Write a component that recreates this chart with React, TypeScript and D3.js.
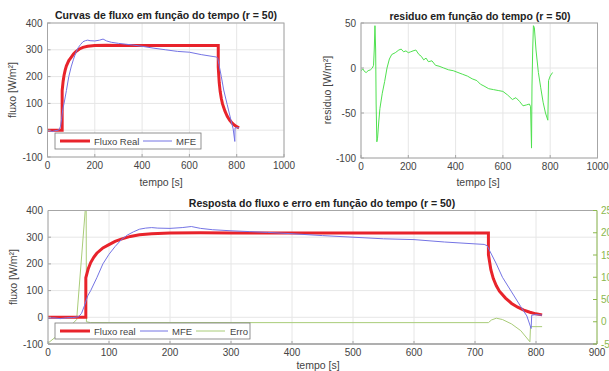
import React from 'react';
import * as d3 from 'd3';

// fluxo real [t, W/m²]
const realT = [0, 62, 62, 66, 70, 75, 80, 90, 100, 110, 120, 135, 150, 170, 200, 250, 300, 722, 722, 726, 730, 735, 740, 750, 760, 770, 780, 790, 800, 810];
const realV = [0, 0, 148, 182, 205, 225, 240, 260, 272, 284, 293, 303, 309, 313, 316, 317, 316, 316, 235, 178, 145, 118, 98, 72, 52, 38, 27, 19, 13, 9];

// MFE [t, W/m²]
const mfeT = [0, 10, 20, 30, 40, 50, 55, 60, 65, 70, 80, 90, 100, 110, 120, 130, 140, 150, 160, 170, 180, 200, 220, 235, 250, 270, 300, 330, 360, 400, 450, 500, 550, 600, 650, 700, 715, 720, 725, 735, 745, 760, 775, 785, 792, 793, 800, 810];
const mfeV = [-3, -2, -5, -2, -1, 2, 15, 45, 80, 100, 148, 200, 236, 265, 290, 308, 320, 330, 334, 336, 334, 333, 336, 340, 333, 328, 324, 321, 318, 313, 306, 300, 294, 291, 282, 275, 273, 268, 245, 200, 150, 95, 40, 5, -42, 8, 10, 8];

// residuo [t, W/m²]
const resT = [0, 8, 15, 22, 30, 40, 48, 53, 56, 59, 62, 64, 67, 70, 75, 80, 90, 100, 110, 120, 130, 145, 160, 170, 180, 190, 200, 210, 220, 232, 245, 255, 265, 275, 285, 300, 315, 330, 350, 370, 390, 410, 430, 450, 470, 490, 505, 520, 540, 560, 580, 600, 620, 640, 655, 670, 685, 700, 712, 717, 721, 723, 726, 729, 733, 740, 750, 760, 770, 780, 790, 793, 800, 810];
const resV = [-3, -1, -4, -5, -3, -2, 0, 3, 20, 47, 20, -40, -82, -78, -60, -45, -28, -15, 0, 10, 15, 17, 20, 21, 18, 19, 17, 18, 19, 20, 15, 13, 9, 11, 7, 8, 3, 2, 0, -2, -3, -5, -7, -9, -12, -14, -18, -20, -23, -24, -25, -26, -30, -35, -33, -37, -42, -41, -40, -43, -89, -20, 20, 47, 45, 20, -5, -22, -38, -50, -58, -14, -9, -5];

// erro (eixo direito)
const erroT = [0, 42, 47, 61, 62, 63, 70, 200, 400, 600, 722, 727, 735, 745, 760, 775, 790, 791, 810];
const erroV = [-48, -2, 5, 250, 600, 0, -2, -2, -2, -2, -2, 4, 8, 5, -5, -20, -45, -11, -11];

const xTicksTop = [0, 200, 400, 600, 800, 1000];
const yTicksFlux = [-100, 0, 100, 200, 300, 400];
const yTicksRes = [-100, -50, 0, 50];
const xTicksBot = [0, 100, 200, 300, 400, 500, 600, 700, 800, 900];
const yTicksErro = [-50, 0, 50, 100, 150, 200, 250];

const RED = '#e8232b';
const BLUE = '#7474e4';
const GREEN = '#4fe04f';
const OLIVE = '#a9cc78';
const AXIS_G = '#8cb84e';
const GRID = '#e6e6e6';
const BOX = '#a6a6a6';
const TXT = '#444';
const FONT = 'Liberation Sans, Arial, sans-serif';

const zip = (t: number[], v: number[]) => t.map((d, i) => [d, v[i]] as [number, number]);

function Frame({ x, y, xt, yt, id }: any) {
  const [x0, x1] = x.range();
  const [y0, y1] = y.range();
  return (
    <g>
      <rect x={x0} y={y1} width={x1 - x0} height={y0 - y1} fill="#fff" />
      {xt.map((t: number) => (
        <line key={'gx' + t} x1={x(t)} x2={x(t)} y1={y0} y2={y1} stroke={GRID} />
      ))}
      {yt.map((t: number) => (
        <line key={'gy' + t} x1={x0} x2={x1} y1={y(t)} y2={y(t)} stroke={GRID} />
      ))}
      <clipPath id={id}>
        <rect x={x0} y={y1} width={x1 - x0} height={y0 - y1} />
      </clipPath>
    </g>
  );
}

function Axes({ x, y, xt, yt, box = true }: any) {
  const [x0, x1] = x.range();
  const [y0, y1] = y.range();
  return (
    <g fontFamily={FONT} fontSize={10} fill={TXT}>
      {box && <rect x={x0} y={y1} width={x1 - x0} height={y0 - y1} fill="none" stroke={BOX} />}
      {!box && <line x1={x0} x2={x0} y1={y0} y2={y1} stroke={BOX} />}
      {!box && <line x1={x0} x2={x1} y1={y1} y2={y1} stroke={BOX} />}
      {!box && <line x1={x0} x2={x1} y1={y0} y2={y0} stroke="#999" strokeWidth={1.5} />}
      {xt.map((t: number) => (
        <g key={'x' + t}>
          <line x1={x(t)} x2={x(t)} y1={y0} y2={y0 - 3} stroke={BOX} />
          <text x={x(t)} y={y0 + 12} textAnchor="middle">{t}</text>
        </g>
      ))}
      {yt.map((t: number) => (
        <g key={'y' + t}>
          <line x1={x0} x2={x0 + 3} y1={y(t)} y2={y(t)} stroke={BOX} />
          <text x={x0 - 5} y={y(t) + 3.5} textAnchor="end">{t}</text>
        </g>
      ))}
    </g>
  );
}

export default function App() {
  // painel superior esquerdo
  const x1 = d3.scaleLinear().domain([0, 1000]).range([47.5, 284]);
  const y1 = d3.scaleLinear().domain([-100, 400]).range([157, 23]);
  // painel superior direito
  const x2 = d3.scaleLinear().domain([0, 1000]).range([361, 597.5]);
  const y2 = d3.scaleLinear().domain([-100, 50]).range([158, 23]);
  // painel inferior
  const x3 = d3.scaleLinear().domain([0, 900]).range([48, 597]);
  const y3 = d3.scaleLinear().domain([-100, 400]).range([344, 210.5]);
  const y3r = d3.scaleLinear().domain([-50, 250]).range([344, 210.5]);

  const real = zip(realT, realV);
  const mfe = zip(mfeT, mfeV);
  const res = zip(resT, resV);
  const erro = zip(erroT, erroV);

  const l1 = d3.line().x((d) => x1(d[0])).y((d) => y1(d[1]));
  const l2 = d3.line().x((d) => x2(d[0])).y((d) => y2(d[1]));
  const l3 = d3.line().x((d) => x3(d[0])).y((d) => y3(d[1]));
  const l3r = d3.line().x((d) => x3(d[0])).y((d) => y3r(d[1]));

  return (
    <svg width={609} height={371} style={{ position: 'absolute', left: 0, top: 0 }} fontFamily={FONT}>
      <rect width={609} height={371} fill="#fff" />

      {/* superior esquerdo */}
      <Frame x={x1} y={y1} xt={xTicksTop} yt={yTicksFlux} id="c1" />
      <g clipPath="url(#c1)" fill="none">
        <path d={l1(real) || ''} stroke={RED} strokeWidth={3} />
        <path d={l1(mfe) || ''} stroke={BLUE} strokeWidth={1} />
      </g>
      <Axes x={x1} y={y1} xt={xTicksTop} yt={yTicksFlux} />
      <text x={166} y={19} textAnchor="middle" fontWeight="bold" fontSize={10.5} fill="#222">
        Curvas de fluxo em função do tempo (r = 50)
      </text>
      <text x={161} y={186} textAnchor="middle" fontSize={10.5} fill={TXT}>tempo [s]</text>
      <text transform="translate(16,90) rotate(-90)" textAnchor="middle" fontSize={10.5} fill={TXT}>fluxo [W/m²]</text>
      <g fontSize={9.5} fill={TXT}>
        <rect x={55} y={133} width={146} height={16} fill="#fff" stroke="#777" strokeWidth={0.8} />
        <line x1={60} x2={90} y1={141} y2={141} stroke={RED} strokeWidth={3} />
        <text x={94} y={144.5}>Fluxo Real</text>
        <line x1={143} x2={172} y1={141} y2={141} stroke={BLUE} strokeWidth={1} />
        <text x={176} y={144.5}>MFE</text>
      </g>

      {/* superior direito */}
      <Frame x={x2} y={y2} xt={xTicksTop} yt={yTicksRes} id="c2" />
      <g clipPath="url(#c2)" fill="none">
        <path d={l2(res) || ''} stroke={GREEN} strokeWidth={1} />
      </g>
      <Axes x={x2} y={y2} xt={xTicksTop} yt={yTicksRes} />
      <text x={480} y={20} textAnchor="middle" fontWeight="bold" fontSize={10.5} fill="#222">
        residuo em função do tempo (r = 50)
      </text>
      <text x={478} y={186} textAnchor="middle" fontSize={10.5} fill={TXT}>tempo [s]</text>
      <text transform="translate(331,90) rotate(-90)" textAnchor="middle" fontSize={10.5} fill={TXT}>residuo [W/m²]</text>

      {/* inferior */}
      <Frame x={x3} y={y3} xt={xTicksBot} yt={yTicksFlux} id="c3" />
      <g clipPath="url(#c3)" fill="none">
        <path d={l3r(erro) || ''} stroke={OLIVE} strokeWidth={1} />
        <path d={l3(real) || ''} stroke={RED} strokeWidth={3} />
        <path d={l3(mfe) || ''} stroke={BLUE} strokeWidth={1} />
      </g>
      <Axes x={x3} y={y3} xt={xTicksBot} yt={yTicksFlux} box={false} />
      <g fontSize={10} fill={AXIS_G}>
        <line x1={597} x2={597} y1={344} y2={210.5} stroke={AXIS_G} />
        {yTicksErro.map((t) => (
          <g key={'r' + t}>
            <line x1={597} x2={593} y1={y3r(t)} y2={y3r(t)} stroke={AXIS_G} />
            <text x={601} y={y3r(t) + 3.5}>{t}</text>
          </g>
        ))}
      </g>
      <text x={322} y={207} textAnchor="middle" fontWeight="bold" fontSize={10.5} fill="#222">
        Resposta do fluxo e erro em função do tempo (r = 50)
      </text>
      <text x={318} y={369} textAnchor="middle" fontSize={10.5} fill={TXT}>tempo [s]</text>
      <text transform="translate(17,277) rotate(-90)" textAnchor="middle" fontSize={10.5} fill={TXT}>fluxo [W/m²]</text>
      <g fontSize={9.5} fill={TXT}>
        <rect x={55} y={323} width={195} height={16} fill="#fff" stroke="#777" strokeWidth={0.8} />
        <line x1={60} x2={90} y1={331} y2={331} stroke={RED} strokeWidth={3} />
        <text x={94} y={334.5}>Fluxo real</text>
        <line x1={140} x2={168} y1={331} y2={331} stroke={BLUE} strokeWidth={1} />
        <text x={172} y={334.5}>MFE</text>
        <line x1={196} x2={225} y1={331} y2={331} stroke={OLIVE} strokeWidth={1} />
        <text x={230} y={334.5}>Erro</text>
      </g>
    </svg>
  );
}
